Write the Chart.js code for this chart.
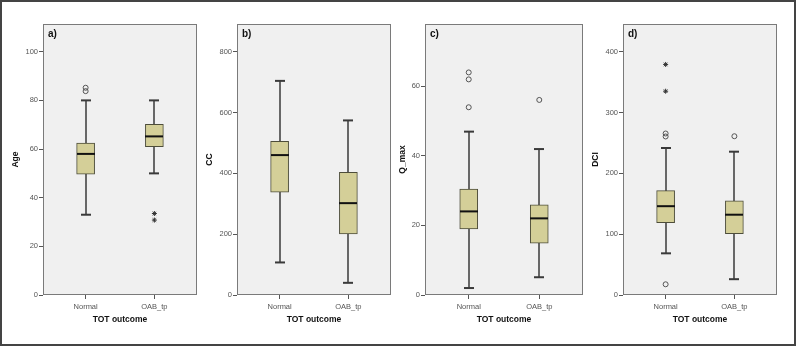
<!DOCTYPE html>
<html lang="en">
<head>
<meta charset="UTF-8" />
<title>TOT outcome box plots</title>
<script src="https://cdn.jsdelivr.net/npm/chart.js"></script>
<style>
  body { margin: 0; background: #fff; }
  #frame { position: absolute; left: 0; top: 0; width: 792px; height: 342px; border: 2px solid #444; }
  canvas { position: absolute; top: 0; }
</style>
</head>
<body>
<div id="frame"></div>
<canvas id="panelA" width="198" height="346" style="left:4px"></canvas>
<canvas id="panelB" width="194" height="346" style="left:200px"></canvas>
<canvas id="panelC" width="194" height="346" style="left:394px"></canvas>
<canvas id="panelD" width="206" height="346" style="left:588px"></canvas>

<script>
const groups = ['Normal', 'OAB_tp'];

// each box: [lower whisker, Q1, median, Q3, upper whisker]
const ageBox = [[33, 49.7, 58, 62.5, 80], [50, 61, 65.2, 70.2, 80]];
const ageOutliers = [[85.2, 83.8], []];
const ageExtremes = [[], [33.5, 30.8]];
const ageTicks = [0, 20, 40, 60, 80, 100];

const ccBox = [[107, 338, 460, 505, 704], [40, 201, 302, 403, 574]];
const ccOutliers = [[], []];
const ccExtremes = [[], []];
const ccTicks = [0, 200, 400, 600, 800];

const qmaxBox = [[2, 19, 24, 30.4, 46.9], [5.1, 14.9, 22, 25.9, 41.9]];
const qmaxOutliers = [[63.9, 61.9, 53.9], [56]];
const qmaxExtremes = [[], []];
const qmaxTicks = [0, 20, 40, 60];

const dciBox = [[68.5, 119, 146, 171.5, 241.7], [26, 101, 132, 155, 235.6]];
const dciOutliers = [[265.5, 260.6, 17.6], [261]];
const dciExtremes = [[379, 335], []];
const dciTicks = [0, 100, 200, 300, 400];

Chart.defaults.font.family = "'Liberation Sans', Arial, sans-serif";

// whiskers, medians, plot background/border and panel letter
const boxPlotLines = {
  id: 'boxPlotLines',
  beforeDraw(chart) {
    const { ctx, chartArea: a } = chart;
    ctx.save();
    ctx.fillStyle = '#f0f0f0';
    ctx.fillRect(a.left, a.top, a.width, a.height);
    ctx.restore();
  },
  beforeDatasetsDraw(chart, args, opts) {
    const { ctx, scales: { x, y } } = chart;
    ctx.save();
    ctx.strokeStyle = '#3a3a3a';
    opts.box.forEach((b, i) => {
      const cx = Math.round(x.getPixelForValue(i));
      ctx.lineWidth = 1.5;
      ctx.beginPath();
      ctx.moveTo(cx, y.getPixelForValue(b[0]));
      ctx.lineTo(cx, y.getPixelForValue(b[4]));
      ctx.stroke();
      ctx.lineWidth = 2;
      [b[0], b[4]].forEach(v => {
        const py = y.getPixelForValue(v);
        ctx.beginPath();
        ctx.moveTo(cx - 5, py);
        ctx.lineTo(cx + 5, py);
        ctx.stroke();
      });
    });
    ctx.restore();
  },
  afterDatasetsDraw(chart, args, opts) {
    const { ctx, chartArea: a, scales: { x, y } } = chart;
    ctx.save();
    ctx.strokeStyle = '#111';
    ctx.lineWidth = 2;
    opts.box.forEach((b, i) => {
      const cx = Math.round(x.getPixelForValue(i));
      const py = y.getPixelForValue(b[2]);
      ctx.beginPath();
      ctx.moveTo(cx - 9, py);
      ctx.lineTo(cx + 9, py);
      ctx.stroke();
    });
    ctx.strokeStyle = '#7a7a7a';
    ctx.lineWidth = 1;
    ctx.strokeRect(Math.round(a.left) + 0.5, Math.round(a.top) + 0.5, Math.round(a.width) - 1, Math.round(a.height) - 1);
    ctx.fillStyle = '#111';
    ctx.font = "bold 10px 'Liberation Sans', Arial, sans-serif";
    ctx.textBaseline = 'middle';
    ctx.fillText(opts.letter, a.left + 5, a.top + 10);
    ctx.restore();
  }
};

function makePanel(id, p) {
  const boxData = p.box.map((b, i) => ({ x: i, y: [b[1], b[3]] }));
  const outData = p.outliers.flatMap((vals, i) => vals.map(v => ({ x: i, y: v })));
  const extData = p.extremes.flatMap((vals, i) => vals.map(v => ({ x: i, y: v })));

  new Chart(document.getElementById(id), {
    type: 'bar',
    data: {
      datasets: [
        {
          data: boxData,
          backgroundColor: '#d4cf98',
          borderColor: '#4d4d3a',
          borderWidth: 1,
          borderSkipped: false,
          barThickness: 18
        },
        {
          type: 'scatter',
          data: outData,
          pointStyle: 'circle',
          radius: 2.5,
          borderWidth: 1,
          borderColor: '#555',
          backgroundColor: 'rgba(0,0,0,0)'
        },
        {
          type: 'scatter',
          data: extData,
          pointStyle: 'star',
          radius: 2.5,
          borderWidth: 1,
          borderColor: '#333',
          backgroundColor: '#333'
        }
      ]
    },
    options: {
      responsive: false,
      devicePixelRatio: 1,
      animation: false,
      events: [],
      layout: { padding: { top: 24, right: p.padRight, bottom: 0, left: 0 } },
      plugins: {
        legend: { display: false },
        tooltip: { enabled: false },
        boxPlotLines: { box: p.box, letter: p.letter }
      },
      scales: {
        x: {
          type: 'linear',
          min: -0.62,
          max: 1.62,
          offset: false,
          afterBuildTicks: s => { s.ticks = groups.map((g, i) => ({ value: i })); },
          afterFit: s => { s.height = 51; s.paddingLeft = 0; s.paddingRight = 0; },
          ticks: {
            callback: v => groups[v],
            font: { size: 7.5 },
            color: '#555',
            padding: 3,
            maxRotation: 0,
            autoSkip: false
          },
          grid: { offset: false, drawOnChartArea: false, tickLength: 4, color: '#555' },
          border: { display: false },
          title: {
            display: true,
            text: 'TOT outcome',
            font: { size: 8.5, weight: 'bold' },
            color: '#111',
            padding: { top: 0, bottom: 21 }
          }
        },
        y: {
          min: 0,
          max: p.max,
          afterBuildTicks: s => { s.ticks = p.ticks.map(v => ({ value: v })); },
          afterFit: s => { s.width = p.axisWidth; s.paddingTop = 0; s.paddingBottom = 0; },
          ticks: { font: { size: 7.5 }, color: '#555', padding: 1 },
          grid: { drawOnChartArea: false, tickLength: 4, color: '#555' },
          border: { display: false },
          title: {
            display: true,
            text: p.title,
            font: { size: 8.5, weight: 'bold' },
            color: '#111',
            padding: { top: p.titleOffset - 5.1, bottom: 0 }
          }
        }
      }
    },
    plugins: [boxPlotLines]
  });
}

makePanel('panelA', { letter: 'a)', title: 'Age', box: ageBox, outliers: ageOutliers, extremes: ageExtremes,
  ticks: ageTicks, max: 111.4, axisWidth: 39, padRight: 0, titleOffset: 12 });
makePanel('panelB', { letter: 'b)', title: 'CC', box: ccBox, outliers: ccOutliers, extremes: ccExtremes,
  ticks: ccTicks, max: 891, axisWidth: 37, padRight: 3, titleOffset: 10 });
makePanel('panelC', { letter: 'c)', title: 'Q_max', box: qmaxBox, outliers: qmaxOutliers, extremes: qmaxExtremes,
  ticks: qmaxTicks, max: 77.8, axisWidth: 31, padRight: 5, titleOffset: 8.7 });
makePanel('panelD', { letter: 'd)', title: 'DCI', box: dciBox, outliers: dciOutliers, extremes: dciExtremes,
  ticks: dciTicks, max: 445.5, axisWidth: 35, padRight: 17, titleOffset: 8 });
</script>
</body>
</html>
